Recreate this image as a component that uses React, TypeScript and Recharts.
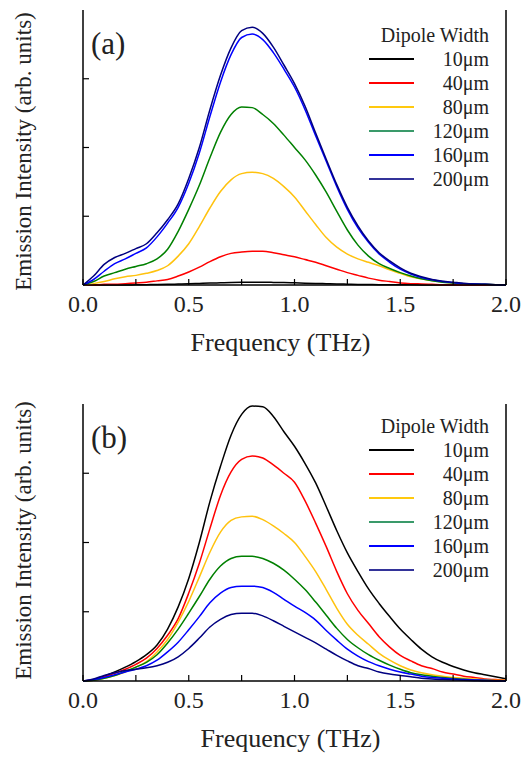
import { LineChart, Line, XAxis, YAxis, Legend } from "recharts";

const FONT = "Liberation Serif";
const INK = "#222";

const FREQ = [
  0, 0.05, 0.1, 0.15, 0.2, 0.25, 0.3, 0.35, 0.4, 0.45, 0.5, 0.55, 0.6, 0.65, 0.7, 0.75, 0.8, 0.85, 0.9, 0.95,
  1.0, 1.05, 1.1, 1.15, 1.2, 1.25, 1.3, 1.35, 1.4, 1.45, 1.5, 1.55, 1.6, 1.65, 1.7, 1.75, 1.8, 1.85, 1.9, 1.95, 2.0,
];
const WIDTHS = ["10μm", "40μm", "80μm", "120μm", "160μm", "200μm"];
const LINE_COLORS = ["#000000", "#ff0000", "#ffc20e", "#008000", "#0000ff", "#000080"];
const KEY_COLORS = ["#000000", "#ff0000", "#ffc90e", "#3a9a6a", "#0000ff", "#333399"];
const X_TICKS = [0, 0.25, 0.5, 0.75, 1, 1.25, 1.5, 1.75, 2];
const Y_TICKS = [1, 2, 3];

// panel (a)
const A_10 = [0, 0, 0, 0, 0, 0.003, 0.005, 0.007, 0.01, 0.014, 0.018, 0.023, 0.028, 0.032, 0.036, 0.039, 0.04, 0.04, 0.038, 0.035,
  0.031, 0.027, 0.023, 0.019, 0.015, 0.012, 0.009, 0.007, 0.005, 0.004, 0.003, 0.002, 0.001, 0, 0, 0, 0, 0, 0, 0, 0];
const A_40 = [0, 0, 0.01, 0.01, 0.02, 0.03, 0.04, 0.06, 0.08, 0.13, 0.19, 0.26, 0.34, 0.41, 0.46, 0.48, 0.49, 0.49, 0.47, 0.44,
  0.41, 0.37, 0.33, 0.28, 0.23, 0.18, 0.14, 0.1, 0.07, 0.05, 0.03, 0.02, 0.015, 0.01, 0.005, 0.003, 0, 0, 0, 0, 0];
const A_80 = [0, 0.02, 0.05, 0.09, 0.12, 0.14, 0.17, 0.21, 0.28, 0.42, 0.6, 0.85, 1.12, 1.36, 1.53, 1.62, 1.64, 1.62, 1.55, 1.43,
  1.28, 1.08, 0.88, 0.69, 0.55, 0.45, 0.38, 0.33, 0.28, 0.22, 0.17, 0.12, 0.09, 0.065, 0.045, 0.03, 0.02, 0.015, 0.01, 0.005, 0];
const A_120 = [0, 0.05, 0.13, 0.18, 0.23, 0.27, 0.31, 0.38, 0.52, 0.78, 1.1, 1.45, 1.85, 2.22, 2.48, 2.59, 2.58, 2.48, 2.35, 2.18,
  2.0, 1.82, 1.6, 1.35, 1.07, 0.8, 0.58, 0.42, 0.31, 0.24, 0.18, 0.13, 0.09, 0.06, 0.04, 0.03, 0.02, 0.015, 0.01, 0.005, 0];
const A_160 = [0, 0.08, 0.2, 0.31, 0.38, 0.46, 0.54, 0.7, 0.9, 1.13, 1.48, 1.92, 2.45, 2.95, 3.35, 3.6, 3.65, 3.57, 3.38, 3.14,
  2.88, 2.55, 2.17, 1.8, 1.43, 1.1, 0.83, 0.62, 0.45, 0.33, 0.23, 0.16, 0.11, 0.075, 0.05, 0.035, 0.02, 0.015, 0.01, 0.005, 0];
const A_200 = [0, 0.13, 0.3, 0.4, 0.46, 0.53, 0.6, 0.76, 0.95, 1.18, 1.55, 2.0, 2.55, 3.05, 3.45, 3.7, 3.75, 3.66, 3.46, 3.2,
  2.93, 2.6, 2.21, 1.83, 1.46, 1.13, 0.86, 0.64, 0.47, 0.35, 0.25, 0.17, 0.12, 0.08, 0.055, 0.04, 0.025, 0.015, 0.01, 0.005, 0];

// panel (b)
const B_10 = [0, 0.02, 0.07, 0.13, 0.2, 0.28, 0.38, 0.52, 0.75, 1.07, 1.48, 2.0, 2.59, 3.1, 3.55, 3.85, 3.97, 3.96, 3.82, 3.6,
  3.39, 3.14, 2.86, 2.52, 2.17, 1.85, 1.58, 1.33, 1.12, 0.93, 0.75, 0.6, 0.46, 0.35, 0.27, 0.21, 0.16, 0.12, 0.09, 0.06, 0.03];
const B_40 = [0, 0.02, 0.06, 0.11, 0.17, 0.24, 0.33, 0.47, 0.66, 0.9, 1.27, 1.7, 2.2, 2.68, 3.02, 3.2, 3.25, 3.22, 3.12, 3.0,
  2.87, 2.6, 2.28, 1.94, 1.58, 1.26, 1.02, 0.83, 0.64, 0.49, 0.37, 0.29, 0.22, 0.18, 0.13, 0.1, 0.07, 0.05, 0.03, 0.02, 0.01];
const B_80 = [0, 0.01, 0.04, 0.08, 0.13, 0.2, 0.28, 0.42, 0.6, 0.85, 1.15, 1.5, 1.86, 2.15, 2.32, 2.37, 2.38, 2.33, 2.24, 2.13,
  2.0, 1.8, 1.58, 1.32, 1.05, 0.82, 0.66, 0.53, 0.4, 0.3, 0.22, 0.16, 0.12, 0.09, 0.07, 0.05, 0.04, 0.03, 0.02, 0.01, 0.01];
const B_120 = [0, 0.01, 0.04, 0.08, 0.14, 0.2, 0.27, 0.38, 0.55, 0.75, 0.98, 1.22, 1.47, 1.66, 1.77, 1.8, 1.8, 1.77, 1.7, 1.6,
  1.47, 1.32, 1.14, 0.95, 0.76, 0.6, 0.48, 0.38, 0.3, 0.23, 0.17, 0.12, 0.09, 0.07, 0.05, 0.035, 0.025, 0.015, 0.01, 0.005, 0];
const B_160 = [0, 0.02, 0.05, 0.09, 0.13, 0.17, 0.22, 0.3, 0.42, 0.56, 0.74, 0.93, 1.13, 1.27, 1.35, 1.37, 1.37, 1.35, 1.28, 1.18,
  1.08, 0.99, 0.88, 0.73, 0.59, 0.46, 0.36, 0.28, 0.22, 0.17, 0.13, 0.1, 0.07, 0.05, 0.04, 0.03, 0.02, 0.015, 0.01, 0.005, 0];
const B_200 = [0, 0.03, 0.08, 0.12, 0.15, 0.17, 0.19, 0.22, 0.27, 0.35, 0.47, 0.62, 0.78, 0.89, 0.96, 0.98, 0.98, 0.94, 0.87, 0.79,
  0.71, 0.63, 0.55, 0.46, 0.37, 0.29, 0.22, 0.18, 0.13, 0.1, 0.08, 0.06, 0.04, 0.03, 0.02, 0.015, 0.01, 0.005, 0, 0, 0];

const toRows = (series: number[][]) =>
  FREQ.map((f, i) => {
    const row: Record<string, number> = { f };
    series.forEach((s, k) => (row[`s${k}`] = s[i]));
    return row;
  });

const dataA = toRows([A_10, A_40, A_80, A_120, A_160, A_200]);
const dataB = toRows([B_10, B_40, B_80, B_120, B_160, B_200]);

const TICK = 6;

const BottomTick = ({ x, y, payload }: any) => {
  const v = payload.value;
  const major = Math.abs(v * 2 - Math.round(v * 2)) < 1e-6;
  return (
    <g>
      <line x1={x} x2={x} y1={y} y2={y - TICK} stroke="#000" strokeWidth={1.2} />
      {major && (
        <text x={x} y={y + 27} textAnchor="middle" fontSize={24} fontFamily={FONT} fill={INK}>
          {v.toFixed(1)}
        </text>
      )}
    </g>
  );
};

const TopTick = ({ x, y }: any) => (
  <line x1={x} x2={x} y1={y} y2={y + TICK} stroke="#000" strokeWidth={1.2} />
);

const LeftTick = ({ x, y }: any) => (
  <line x1={x} x2={x + TICK} y1={y} y2={y} stroke="#000" strokeWidth={1.2} />
);

const RightTick = ({ x, y }: any) => (
  <line x1={x} x2={x - TICK} y1={y} y2={y} stroke="#000" strokeWidth={1.2} />
);

const renderKey = () => (
  <div style={{ fontFamily: FONT, fontSize: 20, color: INK, width: 120 }}>
    <div style={{ textAlign: "right", lineHeight: "24px", height: 24 }}>Dipole Width</div>
    {WIDTHS.map((w, i) => (
      <div key={w} style={{ display: "flex", alignItems: "center", height: 24 }}>
        <div style={{ width: 45, height: 2.5, background: KEY_COLORS[i] }} />
        <div style={{ flex: 1, textAlign: "right", lineHeight: "24px" }}>{w}</div>
      </div>
    ))}
  </div>
);

type PanelProps = {
  data: Record<string, number>[];
  tag: string;
  top: number;
  plotTop: number;
  plotH: number;
  keyTop: number;
  xTitleDx: number;
  yTitleDy: number;
};

const Panel = ({ data, tag, top, plotTop, plotH, keyTop, xTitleDx, yTitleDy }: PanelProps) => {
  const axisH = 379 - plotTop - plotH;
  return (
    <div style={{ position: "absolute", left: 0, top, width: 522, height: 379 }}>
      <LineChart width={522} height={379} data={data} margin={{ top: plotTop, right: 6, bottom: 0, left: 0 }}>
        <XAxis
          xAxisId="b"
          dataKey="f"
          type="number"
          domain={[0, 2]}
          ticks={X_TICKS}
          interval={0}
          height={axisH}
          tickSize={0}
          tickMargin={0}
          tick={<BottomTick />}
          axisLine={{ stroke: "#000", strokeWidth: 1.5 }}
          label={{
            content: ({ viewBox }: any) => (
              <text
                x={viewBox.x + viewBox.width / 2 + xTitleDx}
                y={viewBox.y + 66}
                textAnchor="middle"
                fontSize={26}
                fontFamily={FONT}
                fill={INK}
              >
                Frequency (THz)
              </text>
            ),
          }}
        />
        <XAxis
          xAxisId="t"
          orientation="top"
          dataKey="f"
          type="number"
          domain={[0, 2]}
          ticks={X_TICKS}
          interval={0}
          height={0}
          tickSize={0}
          tickMargin={0}
          tick={<TopTick />}
          axisLine={{ stroke: "#000", strokeWidth: 1.5 }}
        />
        <YAxis
          yAxisId="l"
          domain={[0, 4]}
          ticks={Y_TICKS}
          interval={0}
          width={83}
          tickSize={0}
          tickMargin={0}
          tick={<LeftTick />}
          axisLine={{ stroke: "#000", strokeWidth: 1.5 }}
          label={{
            content: ({ viewBox }: any) => (
              <text
                transform={`translate(${viewBox.x + 31},${viewBox.y + viewBox.height / 2 + yTitleDy}) rotate(-90)`}
                textAnchor="middle"
                fontSize={23}
                fontFamily={FONT}
                fill={INK}
              >
                Emission Intensity (arb. units)
              </text>
            ),
          }}
        />
        <YAxis
          yAxisId="r"
          orientation="right"
          domain={[0, 4]}
          ticks={Y_TICKS}
          interval={0}
          width={10}
          tickSize={0}
          tickMargin={0}
          tick={<RightTick />}
          axisLine={{ stroke: "#000", strokeWidth: 1.5 }}
        />
        <Legend
          layout="vertical"
          align="center"
          verticalAlign="middle"
          content={renderKey}
          wrapperStyle={{ left: 369, top: keyTop, width: 120 }}
        />
        {WIDTHS.map((w, k) => (
          <Line
            key={w}
            xAxisId="b"
            yAxisId="l"
            type="monotone"
            dataKey={`s${k}`}
            name={w}
            stroke={LINE_COLORS[k]}
            strokeWidth={1.5}
            dot={false}
            activeDot={false}
            isAnimationActive={false}
          />
        ))}
      </LineChart>
      <div
        style={{
          position: "absolute",
          left: 91,
          top: plotTop + 44 - 26,
          fontFamily: FONT,
          fontSize: 31,
          lineHeight: "31px",
          color: INK,
        }}
      >
        {tag}
      </div>
    </div>
  );
};

export default function App() {
  return (
    <div style={{ position: "absolute", left: 0, top: 0, width: 522, height: 758, background: "#fff" }}>
      <Panel data={dataA} tag="(a)" top={0} plotTop={10} plotH={275} keyTop={23} xTitleDx={-14} yTitleDy={4} />
      <Panel data={dataB} tag="(b)" top={379} plotTop={25} plotH={277} keyTop={35} xTitleDx={-4} yTitleDy={-2} />
    </div>
  );
}
